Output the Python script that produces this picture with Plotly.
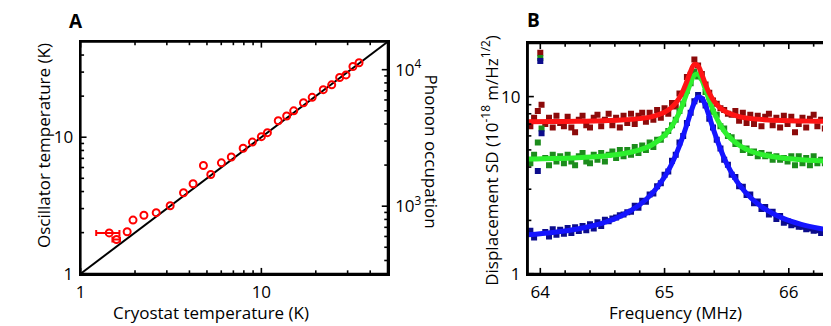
import numpy as np
import plotly.graph_objects as go

# ---- panel A: oscillator temperature vs cryostat temperature ----
cryo_T = [1.44, 1.58, 1.81, 1.95, 2.24, 2.62, 3.13, 3.71, 4.19, 4.78, 5.25, 6.01, 6.82, 7.93,
          8.92, 10.0, 10.8, 12.4, 13.8, 15.1, 17.1, 19.1, 22.0, 24.5, 27.1, 29.4, 32.1, 34.7]
osc_T = [1.99, 1.78, 2.03, 2.47, 2.68, 2.80, 3.15, 3.92, 4.56, 6.21, 5.33, 6.49, 7.16, 8.30,
         9.21, 10.1, 10.8, 13.2, 14.3, 15.6, 17.9, 19.6, 22.3, 24.2, 27.4, 28.6, 33.0, 35.1]
err_T = [1.44, 1.58]
err_osc = [1.99, 1.78]
err_plus = [0.20, 0.07]
err_minus = [0.22, 0.08]
diag_T = [1, 50]
phonon_per_K = 320  # n = kT / hf at 65 MHz

# tick marks and labels
temp_ticks = [1, 2, 3, 4, 5, 6, 7, 8, 9, 10, 20, 30, 40]
temp_major = [1, 10]
phonon_ticks = [400, 500, 600, 700, 800, 900, 1000, 2000, 3000, 4000, 5000, 6000, 7000, 8000,
                9000, 10000]
phonon_major = [1000, 10000]
phonon_labels = ["10<sup>3</sup>", "10<sup>4</sup>"]
freq_ticks = [64.0, 64.2, 64.4, 64.6, 64.8, 65.0, 65.2, 65.4, 65.6, 65.8, 66.0, 66.2]
freq_major = [64, 65, 66]
sd_ticks = [1, 2, 3, 4, 5, 6, 7, 8, 9, 10]
sd_major = [1, 10]

# ---- panel B: displacement spectral density ----
freq = [63.92, 63.95, 63.98, 64.00, 64.01, 64.04, 64.07, 64.10, 64.13, 64.16,
        64.19, 64.22, 64.25, 64.28, 64.31, 64.34, 64.37, 64.40, 64.43, 64.46,
        64.49, 64.52, 64.55, 64.58, 64.61, 64.64, 64.67, 64.70, 64.73, 64.76,
        64.79, 64.82, 64.85, 64.88, 64.91, 64.94, 64.97, 65.00, 65.03, 65.06,
        65.09, 65.12, 65.15, 65.18, 65.21, 65.24, 65.27, 65.30, 65.33, 65.36,
        65.39, 65.42, 65.45, 65.48, 65.51, 65.54, 65.57, 65.60, 65.63, 65.66,
        65.69, 65.72, 65.75, 65.78, 65.81, 65.84, 65.87, 65.90, 65.93, 65.96,
        65.99, 66.02, 66.05, 66.08, 66.11, 66.14, 66.17, 66.20, 66.23, 66.26,
        66.29, 66.32, 66.35, 66.38]
sd_red = [6.8, 7.6, 8.3, 17.7, 9.0, 7.0, 7.6, 6.7, 7.8, 7.1,
          6.8, 7.7, 6.7, 6.3, 7.4, 7.8, 6.9, 6.7, 7.6, 7.9,
          6.8, 7.4, 8.0, 6.9, 7.6, 6.7, 7.8, 7.1, 8.0, 7.0,
          7.8, 8.1, 7.2, 8.1, 7.4, 8.4, 7.6, 8.6, 8.0, 9.2,
          8.8, 10.4, 10.3, 12.9, 13.3, 16.2, 15.0, 13.4, 11.7, 10.5,
          9.5, 9.1, 8.6, 8.4, 8.0, 7.9, 8.3, 7.3, 8.1, 7.1,
          7.9, 7.0, 7.8, 6.8, 7.7, 8.0, 6.9, 7.6, 6.7, 7.8,
          7.0, 7.7, 6.3, 7.0, 7.6, 6.7, 7.5, 7.9, 6.8, 7.4,
          6.6, 7.6, 6.9, 7.5]
sd_green = [4.2, 4.7, 5.5, 16.5, 6.6, 4.5, 4.1, 4.7, 4.3, 4.6,
            4.2, 4.7, 4.3, 4.1, 4.6, 4.8, 4.3, 4.2, 4.7, 4.4,
            4.8, 4.3, 4.7, 4.9, 4.5, 5.0, 4.6, 5.0, 4.7, 5.2,
            4.8, 5.3, 5.0, 5.5, 5.2, 5.7, 5.7, 6.1, 6.4, 6.9,
            7.4, 8.3, 9.1, 10.8, 11.9, 13.8, 13.0, 12.8, 10.6, 9.9,
            8.2, 7.9, 6.8, 6.6, 6.0, 5.9, 5.4, 5.5, 5.0, 5.1,
            4.8, 4.9, 4.6, 4.8, 4.6, 4.7, 4.4, 4.6, 4.4, 4.5,
            4.3, 4.6, 4.1, 4.6, 4.2, 4.5, 4.1, 4.6, 4.2, 4.4,
            4.2, 4.4, 4.1, 4.4]
sd_blue = [1.75, 1.60, 3.8, 15.9, 6.2, 1.72, 1.62, 1.78, 1.66, 1.77,
           1.68, 1.81, 1.70, 1.83, 1.74, 1.86, 1.76, 1.90, 1.80, 1.95,
           1.86, 2.02, 1.98, 2.05, 2.08, 2.14, 2.16, 2.22, 2.24, 2.42,
           2.36, 2.58, 2.55, 2.80, 2.84, 3.12, 3.24, 3.62, 3.78, 4.35,
           4.70, 5.50, 6.00, 7.10, 8.10, 9.40, 10.2, 9.60, 8.90, 7.50,
           6.70, 5.70, 5.10, 4.40, 4.12, 3.62, 3.52, 3.12, 3.10, 2.78,
           2.80, 2.50, 2.56, 2.32, 2.38, 2.16, 2.24, 2.04, 2.12, 1.94,
           1.98, 1.88, 1.90, 1.84, 1.84, 1.78, 1.80, 1.75, 1.76, 1.70,
           1.74, 1.68, 1.72, 1.67]

fit_f = [63.9, 64.1, 64.3, 64.5, 64.65, 64.8, 64.9, 65.0, 65.05, 65.1, 65.14, 65.18, 65.21, 65.24,
         65.27, 65.3, 65.33, 65.36, 65.4, 65.45, 65.5, 65.6, 65.7, 65.8, 65.95, 66.1, 66.25, 66.38]
fit_red = [7.22, 7.23, 7.25, 7.30, 7.37, 7.51, 7.71, 8.16, 8.60, 9.38, 10.46, 12.2, 13.9, 15.2,
           14.9, 13.33, 11.7, 10.46, 9.38, 8.60, 8.16, 7.71, 7.51, 7.41, 7.32, 7.28, 7.25, 7.23]
fit_green = [4.44, 4.47, 4.52, 4.61, 4.74, 5.0, 5.35, 6.04, 6.66, 7.63, 8.81, 10.49, 11.98, 13.21,
             13.38, 12.41, 10.94, 9.52, 8.08, 6.88, 6.13, 5.31, 4.90, 4.68, 4.50, 4.40, 4.34, 4.31]
fit_blue = [1.66, 1.71, 1.79, 1.93, 2.12, 2.45, 2.84, 3.52, 4.06, 4.86, 5.75, 6.97, 8.10, 9.24,
            9.94, 9.79, 8.88, 7.71, 6.32, 5.06, 4.19, 3.19, 2.66, 2.34, 2.06, 1.90, 1.80, 1.74]

W, H = 831, 326
FONT = "Open Sans"

# panel boxes in pixels (left, right, top, bottom)
A_box = (68, 377, 35, 275)
B_box = (518, 828, 36.5, 275)
T_MAX = 50
F_RANGE = (63.9, 66.38)
SD_MAX = 20


def px(x):
    return x / W


def py(y):
    return (H - y) / H


fig = go.Figure()

# panel A
fig.add_trace(go.Scatter(x=diag_T, y=diag_T, mode="lines",
                         line=dict(color="black", width=2), xaxis="x", yaxis="y"))
fig.add_trace(go.Scatter(x=err_T, y=err_osc, mode="markers",
                         marker=dict(size=7, color="rgba(0,0,0,0)"),
                         error_x=dict(type="data", symmetric=False, array=err_plus,
                                      arrayminus=err_minus, color="red", thickness=2, width=3),
                         xaxis="x", yaxis="y"))
fig.add_trace(go.Scatter(x=cryo_T, y=osc_T, mode="markers",
                         marker=dict(symbol="circle-open", size=7, color="red",
                                     line=dict(width=2, color="red")),
                         xaxis="x", yaxis="y"))
# phonon axis carries no marks of its own
fig.add_trace(go.Scatter(x=[], y=[], xaxis="x", yaxis="y2"))

# panel B data, then fits on top
for vals, col in [(sd_red, "#8c0a0a"), (sd_green, "#1c8c1c"), (sd_blue, "#0c0c8c")]:
    fig.add_trace(go.Scatter(x=freq, y=vals, mode="markers",
                             marker=dict(symbol="square", size=6, color=col, line=dict(width=0)),
                             xaxis="x2", yaxis="y3"))
for vals, col in [(fit_blue, "#1414ff"), (fit_green, "#2ef02e"), (fit_red, "#ff1414")]:
    fig.add_trace(go.Scatter(x=fit_f, y=vals, mode="lines",
                             line=dict(color=col, width=5, shape="spline"),
                             xaxis="x2", yaxis="y3"))

axis_common = dict(showline=True, linecolor="black", linewidth=2, ticks="", showgrid=False,
                   zeroline=False, ticklabelstandoff=2,
                   tickfont=dict(family=FONT, size=17, color="black"))

fig.update_layout(
    width=W, height=H,
    margin=dict(l=0, r=0, t=0, b=0),
    plot_bgcolor="white", paper_bgcolor="white",
    showlegend=False,
    font=dict(family=FONT, size=17, color="black"),
    xaxis=dict(axis_common, type="log", range=[0, np.log10(T_MAX)],
               domain=[px(A_box[0]), px(A_box[1])], anchor="y", mirror=True,
               tickvals=temp_major, ticktext=[str(v) for v in temp_major]),
    yaxis=dict(axis_common, type="log", range=[0, np.log10(T_MAX)],
               domain=[py(A_box[3]), py(A_box[2])], anchor="x",
               tickvals=temp_major, ticktext=[str(v) for v in temp_major]),
    yaxis2=dict(axis_common, type="log",
                range=[np.log10(phonon_per_K), np.log10(phonon_per_K * T_MAX)],
                overlaying="y", side="right", anchor="x",
                tickvals=phonon_major, ticktext=phonon_labels),
    xaxis2=dict(axis_common, range=list(F_RANGE), domain=[px(B_box[0]), px(B_box[1])],
                anchor="y3", mirror=True, tickvals=freq_major,
                ticktext=[str(v) for v in freq_major]),
    yaxis3=dict(axis_common, type="log", range=[0, np.log10(SD_MAX)],
                domain=[py(B_box[3]), py(B_box[2])], anchor="x2", mirror=True,
                tickvals=sd_major, ticktext=[str(v) for v in sd_major]),
)


# inward tick marks drawn as short lines on the frame
def add_ticks(xref, yref, fracs, majors, side, box):
    w_px = box[1] - box[0]
    h_px = box[3] - box[2]
    for f, m in zip(fracs, majors):
        ln = 6 if m else 3.5
        if side == "bottom":
            c = dict(x0=f, x1=f, y0=0, y1=ln / h_px)
        elif side == "top":
            c = dict(x0=f, x1=f, y0=1, y1=1 - ln / h_px)
        elif side == "left":
            c = dict(x0=0, x1=ln / w_px, y0=f, y1=f)
        else:
            c = dict(x0=1, x1=1 - ln / w_px, y0=f, y1=f)
        fig.add_shape(type="line", xref=xref, yref=yref, layer="above",
                      line=dict(color="black", width=1.6), **c)


t_frac = [np.log10(t) / np.log10(T_MAX) for t in temp_ticks]
t_maj = [t in temp_major for t in temp_ticks]
n_frac = [(np.log10(n) - np.log10(phonon_per_K)) / np.log10(T_MAX) for n in phonon_ticks]
n_maj = [n in phonon_major for n in phonon_ticks]
f_frac = [(f - F_RANGE[0]) / (F_RANGE[1] - F_RANGE[0]) for f in freq_ticks]
f_maj = [round(f, 1) in freq_major for f in freq_ticks]
s_frac = [np.log10(s) / np.log10(SD_MAX) for s in sd_ticks]
s_maj = [s in sd_major for s in sd_ticks]

for side in ["bottom", "top"]:
    add_ticks("x domain", "y domain", t_frac, t_maj, side, A_box)
    add_ticks("x2 domain", "y3 domain", f_frac, f_maj, side, B_box)
add_ticks("x domain", "y domain", t_frac, t_maj, "left", A_box)
add_ticks("x domain", "y domain", n_frac, n_maj, "right", A_box)
for side in ["left", "right"]:
    add_ticks("x2 domain", "y3 domain", s_frac, s_maj, side, B_box)

# frames
for xr, yr in [("x domain", "y domain"), ("x2 domain", "y3 domain")]:
    fig.add_shape(type="rect", xref=xr, yref=yr, x0=0, x1=1, y0=0, y1=1, layer="above",
                  line=dict(color="black", width=2))

ann = [
    dict(text="<b>A</b>", x=px(63), y=py(13), size=19, angle=0),
    dict(text="<b>B</b>", x=px(524), y=py(12), size=19, angle=0),
    dict(text="Cryostat temperature (K)", x=px(199), y=py(315), size=17, angle=0),
    dict(text="Frequency (MHz)", x=px(667), y=py(315), size=17, angle=0),
    dict(text="Oscillator temperature (K)", x=px(30), y=py(142), size=17, angle=-90),
    dict(text="Phonon occupation", x=px(421), y=py(149), size=17, angle=90),
    dict(text="Displacement SD (10<sup>-18</sup> m/Hz<sup>1/2</sup>)", x=px(480), y=py(158),
         size=17, angle=-90),
]
for a in ann:
    fig.add_annotation(text=a["text"], x=a["x"], y=a["y"], xref="paper", yref="paper",
                       showarrow=False, textangle=a["angle"], xanchor="center", yanchor="middle",
                       font=dict(family=FONT, size=a["size"], color="black"))

fig.write_html("out.html")
